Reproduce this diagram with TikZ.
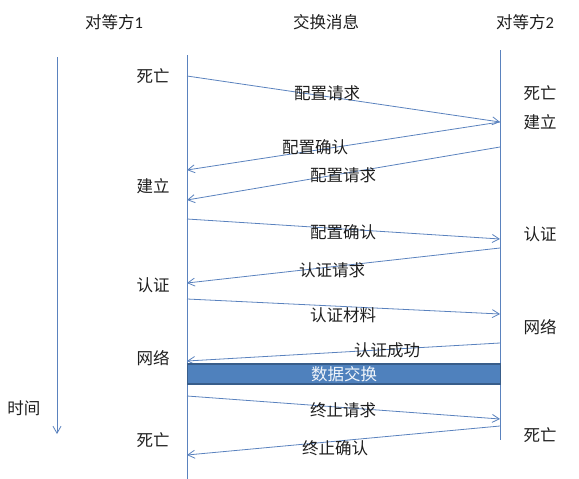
\documentclass[tikz,border=0pt]{standalone}
\usepackage{fontspec}
\setmainfont{Noto Sans CJK SC}
\newfontfamily\latfont{Carlito}
\usetikzlibrary{arrows.meta}
\definecolor{lineblue}{RGB}{90,130,190}
\definecolor{boxfill}{RGB}{79,129,189}
\definecolor{boxdraw}{RGB}{56,93,138}
\definecolor{txt}{RGB}{30,30,30}
\tikzset{
  lbl/.style={font=\fontsize{16.5}{16.5}\selectfont, text=txt, inner sep=0pt, anchor=center},
  life/.style={draw=lineblue, line width=0.9pt},
  msg/.style={draw=lineblue, line width=0.8pt, -{Straight Barb[length=7pt,width=8pt,line width=0.8pt]}},
  databox/.style={draw=boxdraw, fill=boxfill, line width=1.2pt, minimum width=313pt, minimum height=20pt, inner sep=0pt, text=white!92!boxfill, font=\fontsize{16.5}{16.5}\selectfont}
}
\begin{document}
\begin{tikzpicture}[x=1pt,y=-1pt]
\useasboundingbox (0,0) rectangle (579,479);
% headers
\node[lbl] (h1) at (114,22) {对等方{\latfont 1}};
\node[lbl] (h2) at (326,22) {交换消息};
\node[lbl] (h3) at (525,22) {对等方{\latfont 2}};
% time
\coordinate (t0) at (57,57);
\coordinate (t1) at (57,434);
\draw[msg] (t0) -- (t1);
\node[lbl] (time) at (24,408) {时间};
% lifelines
\coordinate (Ltop) at (187,55);
\coordinate (Lbot) at (187,479);
\coordinate (Rtop) at (500,50);
\coordinate (Rbot) at (500,440);
\draw[life] (Ltop) -- (Lbot);
\draw[life] (Rtop) -- (Rbot);
% states left
\node[lbl] (sl1) at (153,76) {死亡};
\node[lbl] (sl2) at (153,186) {建立};
\node[lbl] (sl3) at (153,285) {认证};
\node[lbl] (sl4) at (153,358) {网络};
\node[lbl] (sl5) at (153,440) {死亡};
% states right
\node[lbl] (sr1) at (540,93) {死亡};
\node[lbl] (sr2) at (540,122) {建立};
\node[lbl] (sr3) at (540,234) {认证};
\node[lbl] (sr4) at (540,327) {网络};
\node[lbl] (sr5) at (540,435) {死亡};
% message end points
\coordinate (a1) at (187,76);  \coordinate (b1) at (500,122);
\coordinate (b2) at (500,122); \coordinate (a2) at (187,170);
\coordinate (b3) at (500,147); \coordinate (a3) at (187,200);
\coordinate (a4) at (187,219); \coordinate (b4) at (500,239);
\coordinate (b5) at (500,248); \coordinate (a5) at (187,283);
\coordinate (a6) at (187,299); \coordinate (b6) at (500,314);
\coordinate (b7) at (500,343); \coordinate (a7) at (187,361);
\coordinate (a8) at (187,396); \coordinate (b8) at (500,419);
\coordinate (b9) at (500,426); \coordinate (a9) at (187,455);
\draw[msg] (a1) -- (b1);
\draw[msg] (b2) -- (a2);
\draw[msg] (b3) -- (a3);
\draw[msg] (a4) -- (b4);
\draw[msg] (b5) -- (a5);
\draw[msg] (a6) -- (b6);
\draw[msg] (b7) -- (a7);
\draw[msg] (a8) -- (b8);
\draw[msg] (b9) -- (a9);
% message labels
\node[lbl] (m1) at (327,93) {配置请求};
\node[lbl] (m2) at (315,147) {配置确认};
\node[lbl] (m3) at (343,175) {配置请求};
\node[lbl] (m4) at (343,232) {配置确认};
\node[lbl] (m5) at (332,270) {认证请求};
\node[lbl] (m6) at (343,315) {认证材料};
\node[lbl] (m7) at (387,350) {认证成功};
\node[lbl] (m8) at (343,410) {终止请求};
\node[lbl] (m9) at (335,448) {终止确认};
% data box
\node[databox] (data) at (344,374) {数据交换};
\end{tikzpicture}
\end{document}
